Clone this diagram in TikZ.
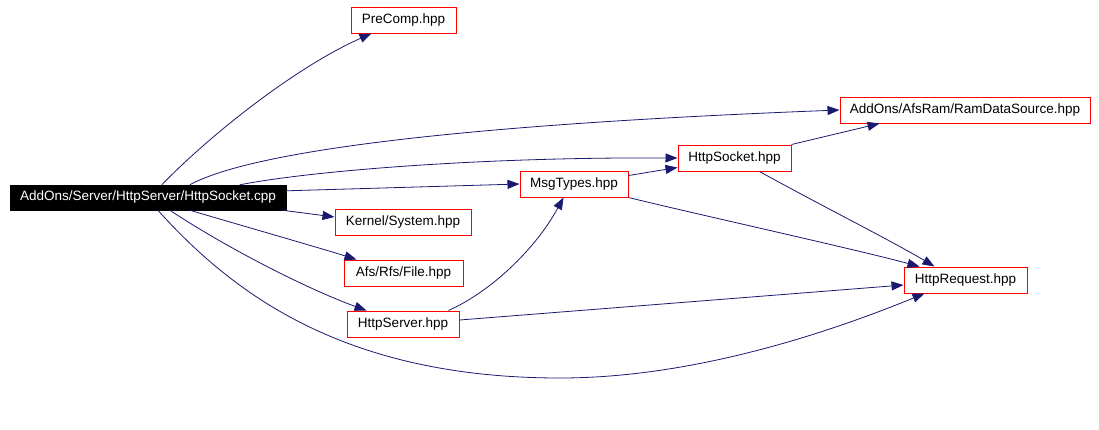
\documentclass[tikz,border=0pt]{standalone}
\usepackage{fontspec}
\setmainfont{Liberation Sans}
\usetikzlibrary{arrows.meta,calc}
\definecolor{edgecol}{HTML}{191970}
\begin{document}
\begin{tikzpicture}[x=1pt,y=-1pt,
  filebox/.style={draw=red,line width=1pt,fill=white,minimum height=26pt,inner sep=0pt,font=\fontsize{13.5}{15}\selectfont},
  srcbox/.style={draw=black,fill=black,text=white,minimum height=25pt,inner sep=0pt,font=\fontsize{13.5}{15}\selectfont},
  dep/.style={draw=edgecol,line width=0.8pt,-{Triangle[length=12pt,width=9pt]},fill=none},
]
\useasboundingbox (0,0) rectangle (1099,429);
\node[srcbox,minimum width=276pt] (src) at (148,197.5) {AddOns/Server/HttpServer/HttpSocket.cpp};
\node[filebox,minimum width=105pt] (pre) at (403.5,20) {PreComp.hpp};
\node[filebox,minimum width=250pt] (ram) at (965,110) {AddOns/AfsRam/RamDataSource.hpp};
\node[filebox,minimum width=113pt] (hs) at (734.5,158) {HttpSocket.hpp};
\node[filebox,minimum width=108pt] (mt) at (574,184) {MsgTypes.hpp};
\node[filebox,minimum width=136pt] (ks) at (403,222) {Kernel/System.hpp};
\node[filebox,minimum width=119pt] (afs) at (403.5,273) {Afs/Rfs/File.hpp};
\node[filebox,minimum width=112pt] (srv) at (403,324) {HttpServer.hpp};
\node[filebox,minimum width=123pt] (req) at (965.5,280) {HttpRequest.hpp};

\draw[dep] ($(src.north west)+(152,0)$) .. controls (215,130) and (300,65) .. ($(pre.south west)+(21,0)$);
\draw[dep] ($(src.north west)+(180,0)$) .. controls (250,152) and (450,125) .. (ram.west);
\draw[dep] ($(src.north west)+(230,0)$) .. controls (310,171) and (480,157) .. (hs.west);
\draw[dep] ($(src.north east)+(0,6)$) -- (mt.west);
\draw[dep] ($(src.south east)+(-4,0)$) -- ($(ks.west)+(0,-5)$);
\draw[dep] ($(src.south west)+(180,0)$) .. controls (250,228) and (320,248) .. ($(afs.north west)+(13,0)$);
\draw[dep] ($(src.south west)+(160,0)$) .. controls (230,250) and (310,290) .. ($(srv.north west)+(20,0)$);
\draw[dep] ($(src.south west)+(148,0)$) .. controls (230,290) and (340,378) .. (560,378) .. controls (700,378) and (840,328) .. ($(req.south west)+(21,0)$);
\draw[dep] ($(srv.north east)+(-11,0)$) .. controls (490,292) and (535,250) .. ($(mt.south west)+(44,0)$);
\draw[dep] ($(srv.east)+(0,-4)$) -- ($(req.west)+(0,5)$);
\draw[dep] ($(mt.north east)+(0,5)$) -- ($(hs.south west)+(0,-4)$);
\draw[dep] (mt.south east) .. controls (700,215) and (850,248) .. ($(req.north west)+(16,0)$);
\draw[dep] (hs.north east) -- ($(ram.south west)+(40,0)$);
\draw[dep] ($(hs.south west)+(82,0)$) .. controls (820,205) and (890,240) .. ($(req.north west)+(31,0)$);
\end{tikzpicture}
\end{document}
